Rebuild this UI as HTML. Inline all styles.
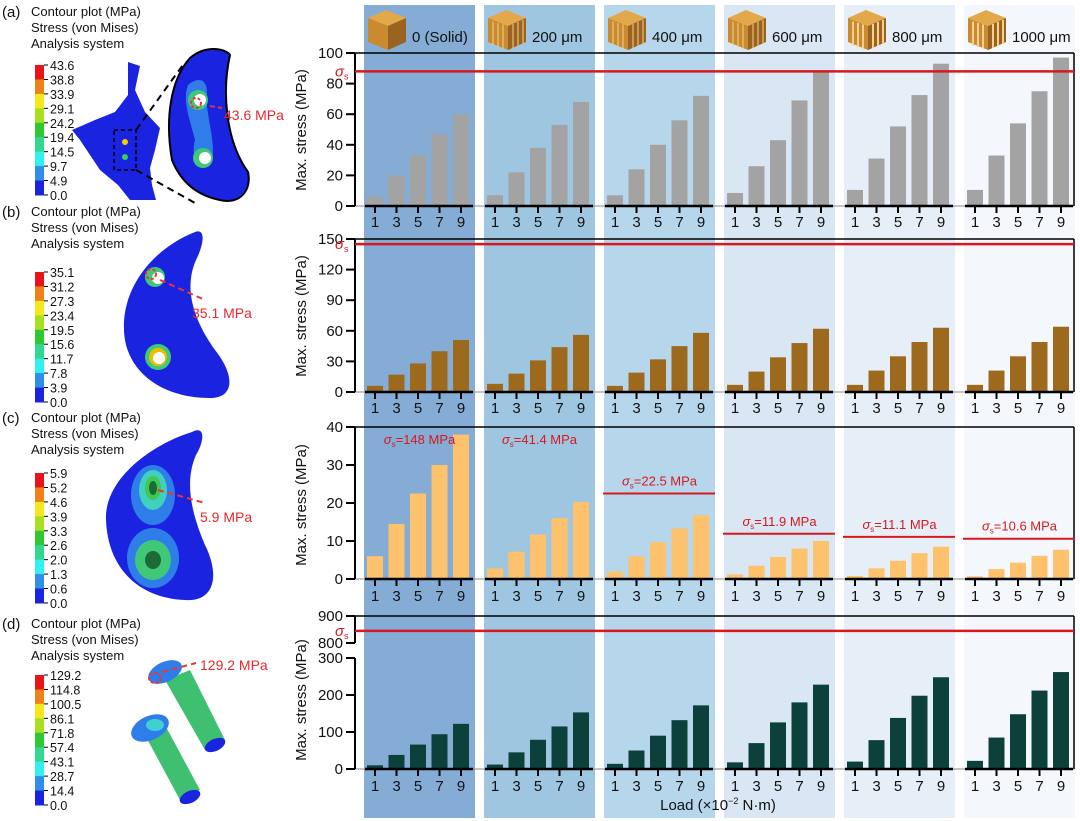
<!DOCTYPE html>
<html><head><meta charset="utf-8"><style>
html,body{margin:0;padding:0;background:#fff}
svg{display:block;font-family:"Liberation Sans",Arial,sans-serif}
</style></head><body>
<svg id="fig" width="1080" height="821" viewBox="0 0 1080 821" xmlns="http://www.w3.org/2000/svg">
<g id="bands"></g>
<g id="left">
  <!-- panel a shapes -->
  <path d="M128,62 L140,66 L135,90 L145,112 L160,128 L155,150 L150,168 L152,185 L156,200 L130,200 L118,185 L100,170 L80,140 L72,130 L95,120 L115,112 L128,95 Z" fill="#1a24e0"/>
  <rect x="114" y="130" width="22" height="40" fill="none" stroke="#000" stroke-dasharray="4,3" stroke-width="1.5"/>
  <circle cx="125" cy="142" r="3" fill="#f5d000"/><circle cx="125" cy="157" r="3" fill="#30d060"/>
  <line x1="136" y1="130" x2="185" y2="62" stroke="#000" stroke-dasharray="7,5" stroke-width="2"/>
  <line x1="136" y1="170" x2="195" y2="203" stroke="#000" stroke-dasharray="7,5" stroke-width="2"/>
  <path d="M190,58 C205,45 225,48 230,55 C222,90 225,140 248,172 C252,190 240,205 220,200 C195,195 180,180 172,160 C165,120 170,80 190,58 Z" fill="#1a24e0" stroke="#000" stroke-width="2"/>
  <path d="M188,85 C200,75 210,80 206,100 C210,130 215,145 212,160 C200,168 190,160 195,140 C190,120 182,100 188,85Z" fill="#2f7de8"/>
  <circle cx="198" cy="100" r="10" fill="#40c878"/><circle cx="200" cy="100" r="6" fill="#fff"/>
  <circle cx="203" cy="158" r="10" fill="#40c878"/><circle cx="205" cy="158" r="6" fill="#fff"/>
  <circle cx="196" cy="103" r="5" fill="none" stroke="#e33" stroke-width="2" stroke-dasharray="3,2"/>
  <line x1="210" y1="106" x2="222" y2="108" stroke="#e33" stroke-width="2" stroke-dasharray="5,3"/>
  <text x="224" y="120" font-size="14" fill="#e8282e">43.6 MPa</text>
  <!-- panel b -->
  <path d="M195,232 C205,228 205,242 196,260 C185,285 190,315 215,350 C235,375 235,398 210,398 C160,398 125,370 124,330 C122,290 150,250 195,232 Z" fill="#1a24e0"/>
  <circle cx="155" cy="277" r="10" fill="#40c878"/><circle cx="158" cy="278" r="6" fill="#fff"/>
  <circle cx="158" cy="357" r="13" fill="#40c878"/><circle cx="158" cy="357" r="9" fill="#e8c000"/><circle cx="159" cy="358" r="6" fill="#fff"/>
  <circle cx="151" cy="274" r="5" fill="none" stroke="#e33" stroke-width="2" stroke-dasharray="3,2"/>
  <line x1="160" y1="280" x2="205" y2="300" stroke="#e33" stroke-width="2" stroke-dasharray="6,4"/>
  <text x="192" y="318" font-size="14" fill="#e8282e">35.1 MPa</text>
  <!-- panel c -->
  <path d="M192,432 C205,425 205,440 196,455 C185,480 190,510 205,545 C220,575 215,602 185,600 C140,598 108,570 106,520 C104,480 150,445 192,432 Z" fill="#1a24e0"/>
  <ellipse cx="153" cy="495" rx="22" ry="30" fill="#2f7de8"/><ellipse cx="153" cy="490" rx="14" ry="20" fill="#40d0c0"/><ellipse cx="153" cy="488" rx="8" ry="12" fill="#40c850"/><ellipse cx="153" cy="488" rx="4" ry="7" fill="#1a6a3a"/>
  <ellipse cx="153" cy="558" rx="26" ry="30" fill="#2f7de8"/><ellipse cx="153" cy="560" rx="18" ry="20" fill="#40c878"/><ellipse cx="153" cy="560" rx="8" ry="9" fill="#1a6a3a"/>
  <line x1="158" y1="490" x2="205" y2="503" stroke="#e33" stroke-width="2" stroke-dasharray="6,4"/>
  <text x="200" y="522" font-size="14" fill="#e8282e">5.9 MPa</text>
  <!-- panel d -->
  <g>
    <path d="M165,680 L190,670 L225,740 L205,750 Z" fill="#3ec070"/>
    <ellipse cx="165" cy="672" rx="18" ry="10" transform="rotate(-25 165 672)" fill="#2f7de8"/>
    <ellipse cx="215" cy="745" rx="11" ry="6" transform="rotate(-25 215 745)" fill="#1a24e0"/>
  </g>
  <g>
    <path d="M145,735 L165,725 L200,790 L180,800 Z" fill="#3ec070"/>
    <ellipse cx="150" cy="728" rx="20" ry="12" transform="rotate(-25 150 728)" fill="#2f7de8"/>
    <ellipse cx="155" cy="725" rx="9" ry="6" fill="#40d0d0"/>
    <ellipse cx="190" cy="797" rx="11" ry="6" transform="rotate(-25 190 797)" fill="#1a24e0"/>
  </g>
  <ellipse cx="155" cy="678" rx="6" ry="5" fill="none" stroke="#e33" stroke-width="2" stroke-dasharray="3,2"/>
  <line x1="162" y1="672" x2="196" y2="663" stroke="#e33" stroke-width="2" stroke-dasharray="6,4"/>
  <text x="200" y="670" font-size="14" fill="#e8282e">129.2 MPa</text>
</g>
<g id="charts"></g>
</svg>
<script>
// ---- data ----
const groups = ['0 (Solid)','200 μm','400 μm','600 μm','800 μm','1000 μm'];
const loads = ['1','3','5','7','9'];
const seriesA = [[6,20,33,47,60],[7,22,38,53,68],[7,24,40,56,72],[8.5,26,43,69,88],[10.5,31,52,72.5,93],[10.5,33,54,75,97]];
const seriesB = [[6,17,28,40,51],[8,18,31,44,56],[6,19,32,45,58],[7,20,34,48,62],[7,21,35,49,63],[7,21,35,49,64]];
const seriesC = [[6,14.5,22.5,30,38],[2.8,7.2,11.7,16,20.3],[2,6,9.7,13.3,16.8],[1.2,3.5,5.8,8,10],[0.8,2.8,4.8,6.8,8.5],[0.7,2.6,4.3,6.1,7.7]];
const seriesD = [[10,38,66,94,122],[12,45,79,115,153],[14,50,90,132,172],[18,70,126,180,228],[20,78,138,198,248],[22,85,148,212,262]];
const yieldA = 88, yieldB = 145, yieldD = 845;
const yieldC = [148,41.4,22.5,11.9,11.1,10.6];
const yieldCLabels = ['σs=148 MPa','σs=41.4 MPa','σs=22.5 MPa','σs=11.9 MPa','σs=11.1 MPa','σs=10.6 MPa'];
const ticksA = [0,20,40,60,80,100], ticksB = [0,30,60,90,120,150], ticksC = [0,10,20,30,40], ticksD = [0,100,200,300], ticksDUp = [800,900];
const cbA = ['43.6','38.8','33.9','29.1','24.2','19.4','14.5','9.7','4.9','0.0'];
const cbB = ['35.1','31.2','27.3','23.4','19.5','15.6','11.7','7.8','3.9','0.0'];
const cbC = ['5.9','5.2','4.6','3.9','3.3','2.6','2.0','1.3','0.6','0.0'];
const cbD = ['129.2','114.8','100.5','86.1','71.8','57.4','43.1','28.7','14.4','0.0'];

const NS='http://www.w3.org/2000/svg';
function mk(tag, attrs, parent, txt){const e=document.createElementNS(NS,tag);for(const k in attrs)e.setAttribute(k,attrs[k]);if(txt!==undefined)e.textContent=txt;(parent||document.getElementById('charts')).appendChild(e);return e;}

const bandColors=['#85acd4','#9ec6e1','#b6d7eb','#d8e7f3','#e6eef8','#f4f8fd'];
const G0=364, GP=120, GW=111, AX=355, RX=1074;
function xc(g,i){return G0+11+g*GP+i*21.5;}
const bands=document.getElementById('bands');
groups.forEach((name,g)=>{
  const r=mk('rect',{x:G0+g*GP,y:5,width:GW,height:813,fill:bandColors[g]},bands);
  
  
  const cx=G0+g*GP+4;
  const cube=mk('g',{},bands);
  
  
  mk('polygon',{points:`${cx},18 ${cx+18},10 ${cx+38},18 ${cx+20},26`,fill:'#e2a84a'},cube);
  mk('polygon',{points:`${cx},18 ${cx+20},26 ${cx+20},50 ${cx},42`,fill:'#c98a30'},cube);
  mk('polygon',{points:`${cx+20},26 ${cx+38},18 ${cx+38},42 ${cx+20},50`,fill:'#9a6420'},cube);
  if(g>0){for(let k=1;k<=3;k++){mk('line',{x1:cx+k*5,y1:20+k*1.5,x2:cx+k*5,y2:44+k*1.5,stroke:'#f5d090','stroke-width':g>3?2:1},cube);mk('line',{x1:cx+20+k*5,y1:26-k*2,x2:cx+20+k*5,y2:50-k*2,stroke:'#f5d090','stroke-width':g>3?2:1},cube);}}
  const t=mk('text',{x:G0+g*GP+48,y:42,'font-size':15,fill:'#111'},bands,name);
  
  
});

function chart(id, yT, yB, maxV, ticks, data, color, tickLabelY){
  const c=mk('g',{});
  
  
  const y=v=>yB-(v/maxV)*(yB-yT);
  mk('line',{x1:AX,y1:yB,x2:RX,y2:yB,stroke:'#888','stroke-width':1},c);
  data.forEach((vals,g)=>{
    vals.forEach((v,i)=>{
      const b=mk('rect',{x:xc(g,i)-8,y:y(v),width:16,height:yB-y(v),fill:color},c);
      
      
      mk('line',{x1:xc(g,i),y1:yB,x2:xc(g,i),y2:yB+7,stroke:'#000','stroke-width':2},c);
      const tl=mk('text',{x:xc(g,i),y:tickLabelY,'font-size':15,'text-anchor':'middle',fill:'#111'},c,loads[i]);
      
      
    });
    mk('line',{x1:G0+g*GP+1,y1:yB,x2:G0+g*GP+GW-2,y2:yB,stroke:'#000','stroke-width':2.5},c);
  });
  return {c,y};
}
function yAxis(c,y,ticks,yTop,yBot){
  mk('line',{x1:AX,y1:yTop,x2:AX,y2:yBot,stroke:'#000','stroke-width':2},c);
  ticks.forEach(t=>{
    mk('line',{x1:AX-9,y1:y(t),x2:AX,y2:y(t),stroke:'#000','stroke-width':2},c);
    const tx=mk('text',{x:AX-12,y:y(t)+5,'font-size':15,'text-anchor':'end',fill:'#111'},c,String(t));
    
    
  });
}
function frame(c,yT,yB){
  mk('line',{x1:AX,y1:yT,x2:RX,y2:yT,stroke:'#000','stroke-width':1.5},c);
  mk('line',{x1:RX,y1:yT,x2:RX,y2:yB,stroke:'#000','stroke-width':1.5},c);
}
function yTitle(c,cy){
  const t=mk('text',{x:0,y:0,'font-size':15,'text-anchor':'middle',fill:'#111',transform:`translate(306 ${cy}) rotate(-90)`},c,'Max. stress (MPa)');
  
  
}
function sigmaLine(c,yy){
  const l=mk('line',{x1:AX,y1:yy,x2:RX,y2:yy,stroke:'#d7191f','stroke-width':2.5},c);
  
  
  const s=mk('text',{x:AX-20,y:yy+5,'font-size':15,'font-style':'italic',fill:'#d7191f'},c,'σ');
  mk('tspan',{'font-size':9,'font-style':'normal',dy:3},s,'s');
}
// chart A
let A=chart('a',53,206,100,ticksA,seriesA,'#a3a3a3',227);
frame(A.c,53,206); yAxis(A.c,A.y,ticksA,53,206); sigmaLine(A.c,A.y(yieldA)); yTitle(A.c,130);
// chart B
let B=chart('b',239,392,150,ticksB,seriesB,'#9d6a1d',413);
frame(B.c,239,392); yAxis(B.c,B.y,ticksB,239,392); sigmaLine(B.c,B.y(yieldB)); yTitle(B.c,316);
// chart C
let C=chart('c',427,579,40,ticksC,seriesC,'#fdc26b',601);
frame(C.c,427,579); yAxis(C.c,C.y,ticksC,427,579); yTitle(C.c,505);
yieldC.forEach((v,g)=>{
  if(v<=40){
    const l=mk('line',{x1:G0+g*GP-1,y1:C.y(v),x2:G0+g*GP+GW,y2:C.y(v),stroke:'#d7191f','stroke-width':2},C.c);
    
    
  }
  const ly=v<=40?C.y(v)-8:444;
  const t=mk('text',{x:G0+g*GP+GW/2,y:ly,'font-size':13,'text-anchor':'middle',fill:'#d7191f'},C.c);
  
  
  const lab=yieldCLabels[g];
  mk('tspan',{'font-style':'italic'},t,'σ');
  mk('tspan',{'font-size':8,dy:3},t,'s');
  mk('tspan',{dy:-3},t,lab.slice(2));
});
// chart D (broken axis)
let D=chart('d',658,769,300,ticksD,seriesD,'#0b403b',791);
yAxis(D.c,D.y,ticksD,658,769);
const yUp=v=>643-(v-800)/100*27;
yAxis(D.c,yUp,ticksDUp,616,643);
frame(D.c,616,769);
sigmaLine(D.c,yUp(yieldD)); yTitle(D.c,700);
const xl=mk('text',{x:718,y:810,'font-size':15,'text-anchor':'middle',fill:'#111'},D.c,'Load (×10');
mk('tspan',{'font-size':9,dy:-6},xl,'−2');
mk('tspan',{dy:6},xl,' N·m)');



// contour legends
const cbColors=['#e8141a','#f08018','#f5e81a','#a8e020','#30c830','#30d890','#30f0f0','#2f8ee8','#1a24e0'];
const left=document.getElementById('left');
[['a',12,65,cbA],['b',212,272,cbB],['c',418,473,cbC],['d',624,675,cbD]].forEach(([p,ty,cy,labs])=>{
  const g=mk('g',{},left);
  
  
  mk('text',{x:2,y:ty+5,'font-size':15,fill:'#111'},g,'('+p+')');
  ['Contour plot (MPa)','Stress (von Mises)','Analysis system'].forEach((s,i)=>mk('text',{x:31,y:ty+4+i*16,'font-size':13,fill:'#111'},g,s));
  const h=130/9;
  cbColors.forEach((col,i)=>mk('rect',{x:35,y:cy+i*h,width:9,height:h+0.5,fill:col},g));
  labs.forEach((l,i)=>{mk('line',{x1:44,y1:cy+i*h,x2:48,y2:cy+i*h,stroke:'#000'},g);mk('text',{x:50,y:cy+i*h+5,'font-size':12.5,fill:'#111'},g,l);});
});
</script>
</body></html>
